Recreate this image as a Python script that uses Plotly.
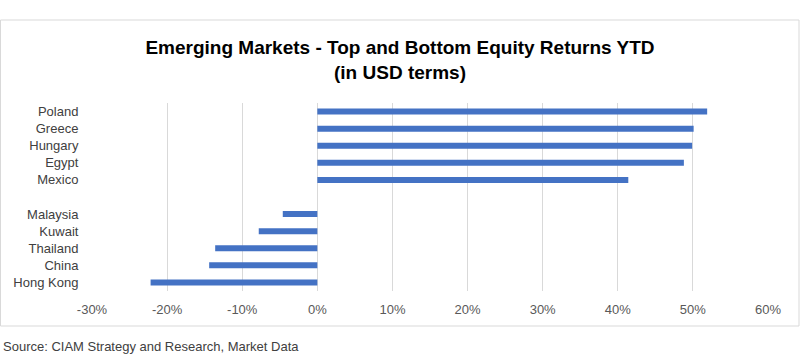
import plotly.graph_objects as go

countries = ["Poland", "Greece", "Hungary", "Egypt", "Mexico", " ",
             "Malaysia", "Kuwait", "Thailand", "China", "Hong Kong"]
returns = [51.9, 50.1, 49.9, 48.8, 41.4, None,
           -4.6, -7.8, -13.6, -14.4, -22.2]
x_ticks = [-30, -20, -10, 0, 10, 20, 30, 40, 50, 60]
x_tick_labels = [f"{v}%" for v in x_ticks]

title_text = "Emerging Markets - Top and Bottom Equity Returns YTD<br>(in USD terms)"
source_text = "Source: CIAM Strategy and Research, Market Data"

W, H = 800, 355
ml, mr, mt, mb = 92, 32, 103, 64
pw, ph = W - ml - mr, H - mt - mb

def px_to_paper_x(px):
    return (px - ml) / pw

def px_to_paper_y(py):
    return (H - mb - py) / ph

fig = go.Figure()
fig.add_trace(go.Bar(
    x=returns, y=countries, orientation="h",
    width=0.35, marker=dict(color="#4472C4", line=dict(width=0)),
    hoverinfo="x+y",
))

fig.update_layout(
    width=W, height=H,
    margin=dict(l=ml, r=mr, t=mt, b=mb, pad=0),
    paper_bgcolor="white", plot_bgcolor="white",
    showlegend=False,
    font=dict(family="Liberation Sans, Arial, sans-serif", size=13, color="#404040"),
    title=dict(
        text=title_text, x=0.5, xref="container", xanchor="center",
        y=1 - 54 / H, yref="container", yanchor="middle",
        font=dict(family="Liberation Sans, Arial, sans-serif", size=19, color="#000000", weight="bold"),
    ),
    xaxis=dict(
        range=[-30, 60], tickvals=x_ticks, ticktext=x_tick_labels,
        showgrid=True, gridcolor="#d9d9d9", gridwidth=1,
        zeroline=True, zerolinecolor="#d9d9d9", zerolinewidth=1,
        showline=False, ticks="outside", ticklen=6, tickcolor="rgba(0,0,0,0)",
        tickfont=dict(size=13, color="#595959"), fixedrange=True,
    ),
    yaxis=dict(
        categoryorder="array", categoryarray=countries, autorange="reversed",
        showgrid=False, zeroline=False, showline=False,
        ticks="outside", ticklen=10, tickcolor="rgba(0,0,0,0)",
        tickfont=dict(size=13, color="#404040"), fixedrange=True,
    ),
    shapes=[dict(
        type="rect", xref="paper", yref="paper",
        x0=px_to_paper_x(0.5), x1=px_to_paper_x(799),
        y0=px_to_paper_y(326), y1=px_to_paper_y(20),
        line=dict(color="#d9d9d9", width=1), fillcolor="rgba(0,0,0,0)", layer="below",
    )],
    annotations=[dict(
        text=source_text, xref="paper", yref="paper",
        x=px_to_paper_x(1), y=px_to_paper_y(346), xanchor="left", yanchor="middle",
        showarrow=False, font=dict(size=13, color="#404040"),
    )],
)

fig.write_html("out.html")
